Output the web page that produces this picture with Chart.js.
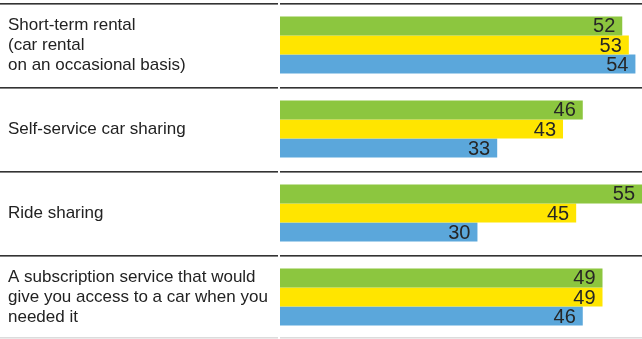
<!DOCTYPE html>
<html>
<head>
<meta charset="utf-8">
<script src="https://cdn.jsdelivr.net/npm/chart.js"></script>
<style>
  html, body { margin: 0; padding: 0; background: #fff; }
  #wrap { width: 642px; height: 339px; }
</style>
</head>
<body>
<div id="wrap"><canvas id="chart"></canvas></div>
<script>
const categories = [
    ["Short-term rental", "(car rental", "on an occasional basis)"],
    ["Self-service car sharing"],
    ["Ride sharing"],
    ["A subscription service that would", "give you access to a car when you", "needed it"]
];
const greenValues = [52, 46, 55, 49];
const yellowValues = [53, 43, 45, 49];
const blueValues = [54, 33, 30, 46];

const FONT = "'Liberation Sans', Arial, sans-serif";

// separators between the category rows, across the full width
const rowLines = {
    id: "rowLines",
    afterDraw(chart) {
        const ctx = chart.ctx;
        const y = chart.scales.y;
        const left = chart.chartArea.left;
        const half = (y.getPixelForValue(1) - y.getPixelForValue(0)) / 2;
        ctx.save();
        for (let i = 0; i <= categories.length; i++) {
            const pos = Math.round(y.getPixelForValue(i) - half);
            const last = i === categories.length;
            ctx.fillStyle = last ? "#dcdcdc" : "#333333";
            const top = last ? pos - 2 : pos;
            ctx.fillRect(0, top, left - 2, 1.6);
            ctx.fillRect(left, top, chart.width - left, 1.6);
        }
        ctx.restore();
    }
};

// value at the end of each bar
const barValues = {
    id: "barValues",
    afterDatasetsDraw(chart) {
        const ctx = chart.ctx;
        ctx.save();
        ctx.font = "20px " + FONT;
        ctx.fillStyle = "#262626";
        ctx.textAlign = "right";
        ctx.textBaseline = "middle";
        chart.data.datasets.forEach((ds, di) => {
            chart.getDatasetMeta(di).data.forEach((bar, i) => {
                ctx.fillText(String(ds.data[i]), bar.x - 7, bar.y + 1);
            });
        });
        ctx.restore();
    }
};

new Chart(document.getElementById("chart"), {
    type: "bar",
    data: {
        labels: categories,
        datasets: [
            { label: "Group 1", data: greenValues, backgroundColor: "#8cc63f" },
            { label: "Group 2", data: yellowValues, backgroundColor: "#ffe500" },
            { label: "Group 3", data: blueValues, backgroundColor: "#5ba7db" }
        ]
    },
    options: {
        indexAxis: "y",
        responsive: true,
        maintainAspectRatio: false,
        animation: false,
        layout: { padding: { left: 8, top: 3, right: 0, bottom: 0 } },
        datasets: {
            bar: { categoryPercentage: 0.68, barPercentage: 1.0 }
        },
        plugins: {
            legend: { display: false },
            tooltip: { enabled: false }
        },
        scales: {
            x: {
                display: false,
                min: 0,
                max: 55
            },
            y: {
                grid: { display: false },
                border: { display: false },
                ticks: {
                    crossAlign: "far",
                    color: "#222222",
                    padding: 0,
                    font: { family: FONT, size: 17, lineHeight: 1.17 }
                },
                afterFit(scale) {
                    scale.width = 272;
                    scale.paddingTop = 0;
                    scale.paddingBottom = 0;
                }
            }
        }
    },
    plugins: [rowLines, barValues]
});
</script>
</body>
</html>
